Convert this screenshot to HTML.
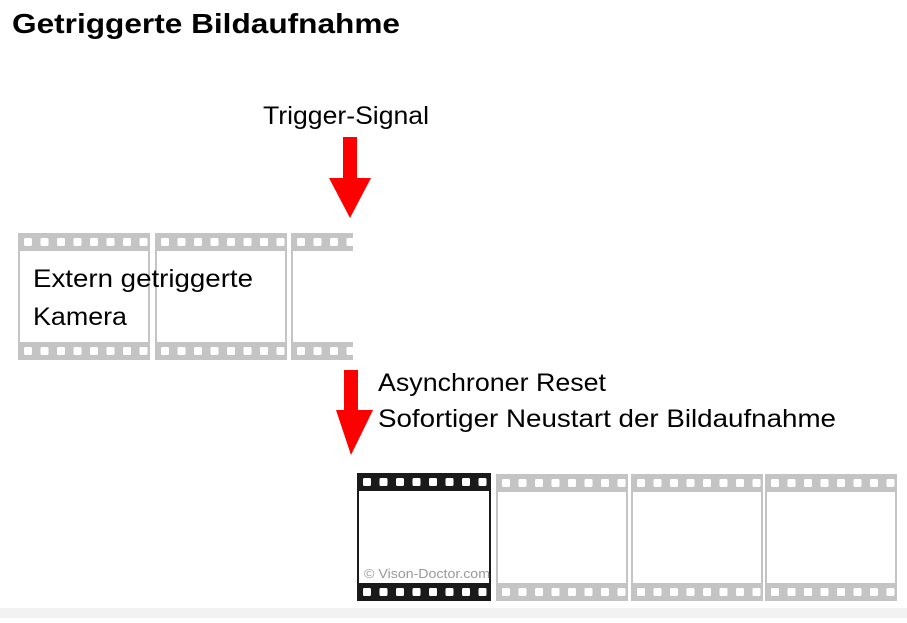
<!DOCTYPE html>
<html><head><meta charset="utf-8"><style>
body{margin:0;width:907px;height:618px;background:#fff;overflow:hidden;font-family:"Liberation Sans","DejaVu Sans",sans-serif}
</style></head><body>
<svg width="907" height="618" xmlns="http://www.w3.org/2000/svg" font-family="Liberation Sans, DejaVu Sans, sans-serif">
<defs>
<g id="holes">
<rect x="6" y="5" width="8" height="8" rx="1.5" fill="#fff"/><rect x="22.5" y="5" width="8" height="8" rx="1.5" fill="#fff"/>
<rect x="39" y="5" width="8" height="8" rx="1.5" fill="#fff"/><rect x="55.5" y="5" width="8" height="8" rx="1.5" fill="#fff"/>
<rect x="72" y="5" width="8" height="8" rx="1.5" fill="#fff"/><rect x="88.5" y="5" width="8" height="8" rx="1.5" fill="#fff"/>
<rect x="105" y="5" width="8" height="8" rx="1.5" fill="#fff"/><rect x="121.5" y="5" width="8" height="8" rx="1.5" fill="#fff"/>
</g>
<g id="fg"><rect x="0" y="0" width="132" height="127" fill="#c4c4c4"/><rect x="2" y="18" width="128" height="91" fill="#fff"/><use href="#holes"/><use href="#holes" y="109"/></g>
<g id="fb"><rect x="0" y="0" width="134" height="128" fill="#1a1a1a"/><rect x="2" y="18" width="130" height="92" fill="#fff"/><use href="#holes"/><use href="#holes" y="110"/></g>
<clipPath id="c3"><rect x="291" y="233" width="62" height="127"/></clipPath>
</defs>
<text x="12" y="33" font-size="28" font-weight="bold" fill="#000" textLength="388" lengthAdjust="spacingAndGlyphs">Getriggerte Bildaufnahme</text>
<text x="263" y="124" font-size="25" fill="#000" textLength="166" lengthAdjust="spacingAndGlyphs">Trigger-Signal</text>
<polygon points="343,137 357,137 357,178 371,178 350,218 329,178 343,178" fill="#ff0000"/>
<use href="#fg" x="18" y="233"/>
<use href="#fg" x="155" y="233"/>
<g clip-path="url(#c3)"><use href="#fg" x="291" y="233"/></g>
<text x="33" y="287" font-size="25" fill="#000" textLength="220" lengthAdjust="spacingAndGlyphs">Extern getriggerte</text>
<text x="33" y="325" font-size="25" fill="#000" textLength="94" lengthAdjust="spacingAndGlyphs">Kamera</text>
<polygon points="344,370 358,370 358,410 373,410 351,455 336,410 344,410" fill="#ff0000"/>
<text x="378" y="391" font-size="25" fill="#000" textLength="228" lengthAdjust="spacingAndGlyphs">Asynchroner Reset</text>
<text x="378" y="427" font-size="25" fill="#000" textLength="458" lengthAdjust="spacingAndGlyphs">Sofortiger Neustart der Bildaufnahme</text>
<use href="#fb" x="357" y="473"/>
<use href="#fg" x="496" y="474"/>
<use href="#fg" x="631" y="474"/>
<use href="#fg" x="765" y="474"/>
<text x="364" y="578" font-size="13" fill="#999" textLength="126" lengthAdjust="spacingAndGlyphs">© Vison-Doctor.com</text>
<rect x="0" y="608" width="907" height="10" fill="#f2f2f2"/>
</svg>
</body></html>
